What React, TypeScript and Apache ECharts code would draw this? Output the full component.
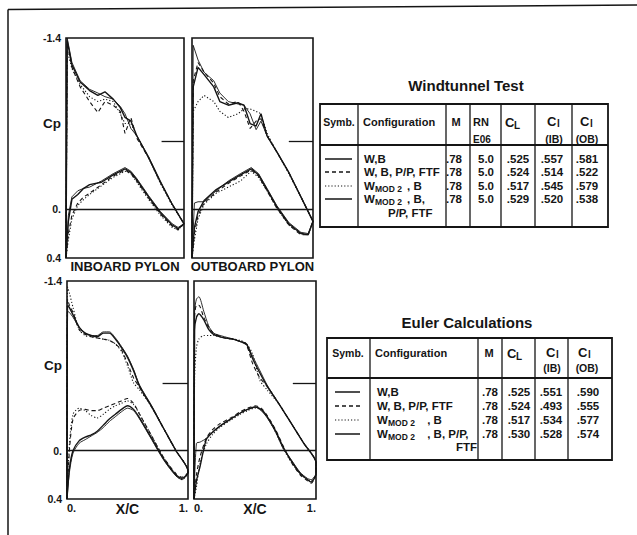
import React, { useEffect, useRef } from "react";
import * as echarts from "echarts";

// ---------- Pressure distributions (Cp vs X/C) ----------
// Windtunnel, inboard pylon
const wtInUX = [0.01, 0.05, 0.12, 0.2, 0.27, 0.33, 0.4, 0.46, 0.5, 0.55, 0.6, 0.7, 0.8, 0.9, 1.0];
const wtInU = [
  [-1.38, -1.18, -1.04, -0.97, -0.93, -0.96, -0.9, -0.83, -0.75, -0.72, -0.6, -0.42, -0.22, -0.04, 0.12],
  [-1.36, -1.16, -1.0, -0.88, -0.79, -0.88, -0.85, -0.8, -0.62, -0.75, -0.58, -0.42, -0.22, -0.04, 0.12],
  [-1.3, -1.15, -1.02, -0.92, -0.88, -0.9, -0.88, -0.78, -0.7, -0.7, -0.6, -0.42, -0.21, -0.03, 0.12],
  [-1.4, -1.2, -1.05, -0.98, -0.95, -0.92, -0.9, -0.84, -0.78, -0.66, -0.6, -0.43, -0.23, -0.04, 0.12],
];
const wtInLX = [0, 0.02, 0.05, 0.1, 0.15, 0.2, 0.3, 0.4, 0.5, 0.55, 0.6, 0.7, 0.8, 0.9, 0.95, 1.0];
const wtInL = [
  [0.4, 0.1, -0.08, -0.12, -0.17, -0.2, -0.22, -0.28, -0.33, -0.3, -0.24, -0.1, 0.03, 0.13, 0.16, 0.12],
  [0.4, 0.2, 0.05, -0.05, -0.1, -0.13, -0.2, -0.27, -0.32, -0.29, -0.23, -0.09, 0.04, 0.14, 0.17, 0.12],
  [0.4, 0.25, 0.08, -0.03, -0.08, -0.12, -0.19, -0.26, -0.31, -0.29, -0.22, -0.08, 0.05, 0.15, 0.17, 0.12],
  [0.4, 0.05, -0.1, -0.15, -0.17, -0.18, -0.23, -0.29, -0.34, -0.31, -0.25, -0.11, 0.02, 0.12, 0.15, 0.12],
];
// Windtunnel, outboard pylon
const wtOutUX = [0.01, 0.05, 0.1, 0.18, 0.23, 0.3, 0.38, 0.43, 0.48, 0.53, 0.57, 0.62, 0.7, 0.8, 0.9, 1.0];
const wtOutU = [
  [-1.0, -1.16, -1.1, -1.0, -0.88, -0.85, -0.87, -0.85, -0.7, -0.68, -0.78, -0.6, -0.47, -0.3, -0.1, 0.1],
  [-1.05, -1.2, -1.12, -1.03, -0.92, -0.86, -0.88, -0.8, -0.66, -0.72, -0.74, -0.6, -0.47, -0.3, -0.1, 0.1],
  [-0.8, -0.88, -0.93, -0.88, -0.8, -0.75, -0.78, -0.82, -0.82, -0.8, -0.78, -0.62, -0.47, -0.29, -0.1, 0.1],
  [-1.34, -1.22, -1.12, -1.05, -0.95, -0.88, -0.86, -0.85, -0.78, -0.65, -0.72, -0.6, -0.47, -0.3, -0.1, 0.1],
];
const wtOutLX = [0, 0.02, 0.05, 0.1, 0.2, 0.3, 0.4, 0.49, 0.55, 0.62, 0.7, 0.8, 0.9, 0.96, 1.0];
const wtOutL = [
  [0.4, 0.15, 0.02, -0.07, -0.16, -0.22, -0.28, -0.33, -0.28, -0.16, -0.02, 0.12, 0.2, 0.21, 0.1],
  [0.4, 0.2, 0.05, -0.05, -0.14, -0.21, -0.27, -0.32, -0.27, -0.15, -0.01, 0.13, 0.21, 0.21, 0.1],
  [0.4, 0.25, 0.08, -0.04, -0.13, -0.18, -0.23, -0.31, -0.26, -0.15, -0.01, 0.13, 0.2, 0.21, 0.1],
  [0.4, -0.05, -0.06, -0.06, -0.15, -0.23, -0.29, -0.34, -0.29, -0.17, -0.03, 0.11, 0.19, 0.2, 0.1],
];
// Euler, inboard pylon
const euInUX = [0.005, 0.02, 0.05, 0.1, 0.15, 0.2, 0.25, 0.3, 0.35, 0.4, 0.45, 0.5, 0.55, 0.6, 0.7, 0.8, 0.9, 1.0];
const euInU = [
  [-1.2, -1.18, -1.12, -1.02, -0.97, -0.95, -0.94, -0.97, -0.97, -0.92, -0.85, -0.77, -0.66, -0.53, -0.36, -0.18, 0.0, 0.17],
  [-1.25, -1.2, -1.14, -1.0, -0.96, -0.94, -0.93, -0.92, -0.91, -0.88, -0.83, -0.72, -0.6, -0.52, -0.36, -0.18, 0.0, 0.17],
  [-1.35, -1.3, -1.18, -1.0, -0.95, -0.94, -0.93, -0.92, -0.91, -0.88, -0.82, -0.7, -0.56, -0.5, -0.36, -0.18, 0.0, 0.17],
  [-1.15, -1.14, -1.1, -1.02, -0.97, -0.95, -0.95, -0.98, -0.98, -0.93, -0.86, -0.78, -0.67, -0.54, -0.37, -0.18, 0.0, 0.17],
];
const euInLX = [0, 0.02, 0.05, 0.1, 0.15, 0.2, 0.25, 0.3, 0.35, 0.4, 0.45, 0.5, 0.55, 0.6, 0.7, 0.8, 0.9, 0.95, 1.0];
const euInL = [
  [0.4, 0.15, 0.0, -0.08, -0.11, -0.13, -0.16, -0.21, -0.26, -0.3, -0.34, -0.37, -0.34, -0.27, -0.1, 0.07, 0.2, 0.23, 0.18],
  [0.4, 0.0, -0.26, -0.33, -0.34, -0.33, -0.33, -0.35, -0.37, -0.39, -0.41, -0.43, -0.39, -0.3, -0.12, 0.06, 0.19, 0.22, 0.18],
  [0.4, -0.05, -0.3, -0.35, -0.33, -0.29, -0.27, -0.3, -0.34, -0.37, -0.39, -0.41, -0.38, -0.3, -0.12, 0.06, 0.2, 0.24, 0.18],
  [0.4, 0.18, 0.02, -0.06, -0.09, -0.12, -0.15, -0.19, -0.24, -0.28, -0.32, -0.35, -0.33, -0.26, -0.09, 0.08, 0.21, 0.24, 0.18],
];
// Euler, outboard pylon
const euOutUX = [0.005, 0.02, 0.04, 0.08, 0.12, 0.16, 0.25, 0.32, 0.38, 0.43, 0.48, 0.54, 0.6, 0.7, 0.8, 0.9, 1.0];
const euOutU = [
  [-1.0, -1.1, -1.13, -1.08, -1.0, -0.96, -0.93, -0.92, -0.9, -0.88, -0.76, -0.64, -0.53, -0.38, -0.22, -0.06, 0.1],
  [-1.1, -1.2, -1.2, -1.1, -1.02, -0.97, -0.93, -0.92, -0.9, -0.87, -0.72, -0.6, -0.53, -0.38, -0.22, -0.06, 0.1],
  [-0.6, -0.85, -0.92, -0.95, -0.95, -0.95, -0.93, -0.92, -0.91, -0.88, -0.8, -0.58, -0.5, -0.38, -0.22, -0.06, 0.1],
  [-1.15, -1.25, -1.27, -1.15, -1.03, -0.97, -0.94, -0.92, -0.9, -0.88, -0.78, -0.66, -0.54, -0.38, -0.22, -0.06, 0.1],
];
const euOutLX = [0, 0.02, 0.05, 0.1, 0.15, 0.21, 0.3, 0.38, 0.44, 0.5, 0.55, 0.6, 0.67, 0.73, 0.8, 0.87, 0.93, 0.96, 1.0];
const euOutL = [
  [0.4, 0.25, 0.13, -0.09, -0.15, -0.2, -0.26, -0.31, -0.34, -0.36, -0.34, -0.28, -0.16, -0.03, 0.09, 0.19, 0.24, 0.26, 0.19],
  [0.4, 0.2, 0.05, -0.1, -0.17, -0.22, -0.27, -0.32, -0.35, -0.37, -0.35, -0.29, -0.17, -0.04, 0.1, 0.2, 0.25, 0.27, 0.19],
  [0.4, 0.3, 0.1, -0.05, -0.13, -0.19, -0.25, -0.3, -0.33, -0.35, -0.34, -0.28, -0.15, -0.02, 0.1, 0.19, 0.24, 0.25, 0.19],
  [0.4, -0.06, -0.07, -0.1, -0.15, -0.2, -0.26, -0.31, -0.34, -0.36, -0.33, -0.27, -0.15, -0.02, 0.08, 0.18, 0.23, 0.24, 0.19],
];

// critical Cp marker
const cpStar = -0.557;
const cpStarStart = [0.81, 0.8, 0.79, 0.81];

// ---------- Tables ----------
const wtConfig = ["W,B", "W, B, P/P, FTF", "W_MOD 2_, B", "W_MOD 2_, B,"];
const wtConfigExtra = "P/P, FTF";
const wtMach = [".78", ".78", ".78", ".78"];
const wtRN = ["5.0", "5.0", "5.0", "5.0"];
const wtCL = [".525", ".524", ".517", ".529"];
const wtClIB = [".557", ".514", ".545", ".520"];
const wtClOB = [".581", ".522", ".579", ".538"];

const euConfig = ["W,B", "W, B, P/P, FTF", "W_MOD 2_ , B", "W_MOD 2_ , B, P/P,"];
const euConfigExtra = "FTF";
const euMach = [".78", ".78", ".78", ".78"];
const euCL = [".525", ".524", ".517", ".530"];
const euClIB = [".551", ".493", ".534", ".528"];
const euClOB = [".590", ".555", ".577", ".574"];

const FF = "'Liberation Sans', Arial, Helvetica, sans-serif";
const INK = "#151515";

const lineStyles = [
  { type: "solid", width: 1.4 },
  { type: [4, 3], width: 1.1 },
  { type: [1.2, 2], width: 1.1 },
  { type: "solid", width: 0.9 },
];

function T(x: number, y: number, text: string, size = 11, align = "left", weight = "bold") {
  return {
    type: "text", x, y, silent: true,
    style: {
      text, fontSize: size, fontWeight: weight, fontFamily: FF, fill: INK,
      textAlign: align, textVerticalAlign: "middle", align, verticalAlign: "middle",
    },
  };
}
function L(x1: number, y1: number, x2: number, y2: number, w = 1.5, dash?: number[]) {
  return {
    type: "line", silent: true, shape: { x1, y1, x2, y2 },
    style: { stroke: INK, lineWidth: w, lineDash: dash || null, fill: "none" },
  };
}
function configEls(x: number, y: number, s: string, subW: number) {
  const parts = s.split("_");
  if (parts.length < 3) return [T(x, y, s, 11.5)];
  return [
    T(x, y, parts[0], 11.5),
    T(x + 11, y + 3, parts[1], 8.5),
    T(x + 11 + subW, y, parts[2], 11.5),
  ];
}
const symDash = [null, [4, 3], [1.2, 2], null];
const symW = [1.5, 1.3, 1.2, 1.5];

function buildGraphics() {
  const g: any[] = [];
  // frame
  g.push(L(8, 9.5, 637, 5, 1.5));
  g.push(L(8, 9.5, 8, 535, 1.5));

  // Windtunnel table
  g.push(T(466, 85, "Windtunnel Test", 15, "center"));
  g.push({ type: "rect", silent: true, shape: { x: 320, y: 104, width: 288, height: 123 }, style: { fill: "none", stroke: INK, lineWidth: 1.8 } });
  g.push(L(320, 145, 608, 145, 1.8));
  [358, 446, 470, 501, 535, 572].forEach((x) => g.push(L(x, 104, x, 227, 1.3)));
  g.push(T(339, 122, "Symb.", 10.5, "center"));
  g.push(T(363, 122, "Configuration", 11));
  g.push(T(456, 122, "M", 11, "center"));
  g.push(T(473, 122, "RN", 11));
  g.push(T(473, 139, "E06", 10));
  g.push(T(505, 122, "C", 13));
  g.push(T(514, 125, "L", 10));
  g.push(T(547, 121, "C", 13));
  g.push(T(557, 123, "l", 10));
  g.push(T(554, 139, "(IB)", 10.5, "center"));
  g.push(T(580, 121, "C", 13));
  g.push(T(590, 123, "l", 10));
  g.push(T(587, 139, "(OB)", 10.5, "center"));
  const wtRows = [159, 172, 186, 199];
  wtRows.forEach((y, i) => {
    g.push(L(325, y, 352, y, symW[i], symDash[i] as any));
    configEls(364, y, wtConfig[i], 32).forEach((e) => g.push(e));
    g.push(T(454, y, wtMach[i], 11.5, "center"));
    g.push(T(486, y, wtRN[i], 11.5, "center"));
    g.push(T(518, y, wtCL[i], 11.5, "center"));
    g.push(T(552, y, wtClIB[i], 11.5, "center"));
    g.push(T(587, y, wtClOB[i], 11.5, "center"));
  });
  g.push(T(388, 213, wtConfigExtra, 11.5));

  // Euler table
  g.push(T(467, 322, "Euler Calculations", 15, "center"));
  g.push({ type: "rect", silent: true, shape: { x: 327, y: 338, width: 285, height: 122 }, style: { fill: "none", stroke: INK, lineWidth: 1.8 } });
  g.push(L(327, 378, 612, 378, 1.8));
  [370, 478, 502, 535, 568].forEach((x) => g.push(L(x, 338, x, 460, 1.3)));
  g.push(T(348, 353, "Symb.", 10.5, "center"));
  g.push(T(375, 353, "Configuration", 11));
  g.push(T(489, 353, "M", 11, "center"));
  g.push(T(507, 353, "C", 13));
  g.push(T(516, 356, "L", 10));
  g.push(T(546, 352, "C", 13));
  g.push(T(556, 354, "l", 10));
  g.push(T(552, 368, "(IB)", 10.5, "center"));
  g.push(T(578, 352, "C", 13));
  g.push(T(588, 354, "l", 10));
  g.push(T(587, 368, "(OB)", 10.5, "center"));
  const euRows = [392, 406, 420, 434];
  euRows.forEach((y, i) => {
    g.push(L(335, y, 360, y, symW[i], symDash[i] as any));
    configEls(377, y, euConfig[i], 36).forEach((e) => g.push(e));
    g.push(T(490, y, euMach[i], 11.5, "center"));
    g.push(T(519, y, euCL[i], 11.5, "center"));
    g.push(T(551, y, euClIB[i], 11.5, "center"));
    g.push(T(588, y, euClOB[i], 11.5, "center"));
  });
  g.push(T(477, 447, euConfigExtra, 11.5, "right"));
  return g;
}

const panels = [
  { ux: wtInUX, u: wtInU, lx: wtInLX, l: wtInL, smooth: false },
  { ux: wtOutUX, u: wtOutU, lx: wtOutLX, l: wtOutL, smooth: false },
  { ux: euInUX, u: euInU, lx: euInLX, l: euInL, smooth: 0.25 },
  { ux: euOutUX, u: euOutU, lx: euOutLX, l: euOutL, smooth: 0.25 },
];

const grids = [
  { left: 66, top: 38, width: 118, height: 220 },
  { left: 192, top: 38, width: 121, height: 220 },
  { left: 67, top: 281, width: 121, height: 218 },
  { left: 194, top: 281, width: 122, height: 218 },
];
const panelNames = ["INBOARD PYLON", "OUTBOARD PYLON", "", ""];

function buildOption() {
  const series: any[] = [];
  panels.forEach((p, pi) => {
    for (let c = 0; c < 4; c++) {
      const data: number[][] = [];
      data.push([p.lx[0], p.l[c][0]]);
      p.ux.forEach((x, k) => data.push([x, p.u[c][k]]));
      for (let k = p.lx.length - 1; k >= 0; k--) data.push([p.lx[k], p.l[c][k]]);
      const s: any = {
        type: "line", xAxisIndex: pi, yAxisIndex: pi, data, showSymbol: false, symbol: "none",
        smooth: p.smooth, silent: true,
        lineStyle: { color: INK, width: lineStyles[c].width, type: lineStyles[c].type },
      };
      if (c === 0) {
        s.markLine = {
          silent: true, symbol: "none", label: { show: false },
          lineStyle: { color: INK, width: 1.3, type: "solid" },
          data: [
            { yAxis: 0 },
            [{ coord: [cpStarStart[pi], cpStar] }, { coord: [1, cpStar] }],
          ],
        };
      }
      series.push(s);
    }
  });

  const xAxis = grids.map((_, i) => {
    const bottom = i >= 2;
    return {
      type: "value", gridIndex: i, min: 0, max: 1, interval: 0.5,
      axisLine: { show: false }, axisTick: { show: false }, splitLine: { show: false },
      name: panelNames[i], nameLocation: "middle", nameGap: 2,
      nameTextStyle: { fontFamily: FF, fontWeight: "bold", fontSize: 13, color: INK, verticalAlign: "top" },
      axisLabel: {
        show: bottom, margin: 3, fontFamily: FF, fontWeight: "bold", fontSize: 11, color: INK,
        alignMinLabel: "left", alignMaxLabel: "right",
        formatter: (v: number) => {
          const r = Math.round(v * 10);
          if (r === 0) return "0.";
          if (r === 5) return "{xc|X/C}";
          if (r === 10) return "1.";
          return "";
        },
        rich: { xc: { fontFamily: FF, fontWeight: "bold", fontSize: 14, color: INK } },
      },
    };
  });
  const yAxis = grids.map((_, i) => {
    const left = i % 2 === 0;
    return {
      type: "value", gridIndex: i, min: -1.4, max: 0.4, interval: 0.1, inverse: true,
      axisLine: { show: false }, axisTick: { show: false }, splitLine: { show: false },
      axisLabel: {
        show: left, margin: 5, fontFamily: FF, fontWeight: "bold", fontSize: 10.5, color: INK,
        formatter: (v: number) => {
          const r = Math.round(v * 10);
          if (r === -14) return "-1.4";
          if (r === -7) return "{cp|Cp}";
          if (r === 0) return "0.";
          if (r === 4) return "0.4";
          return "";
        },
        rich: { cp: { fontFamily: FF, fontWeight: "bold", fontSize: 13.5, color: INK } },
      },
    };
  });

  return {
    animation: false,
    backgroundColor: "#ffffff",
    grid: grids.map((g) => ({ ...g, show: true, borderColor: INK, borderWidth: 1.6, backgroundColor: "transparent", containLabel: false })),
    xAxis, yAxis, series,
    graphic: { elements: buildGraphics() },
  };
}

export default function App() {
  const ref = useRef<HTMLDivElement>(null);
  useEffect(() => {
    if (!ref.current) return;
    const chart = echarts.init(ref.current, null, { renderer: "svg" });
    chart.setOption(buildOption() as any);
    return () => chart.dispose();
  }, []);
  return (
    <div
      ref={ref}
      style={{ position: "fixed", left: 0, top: 0, width: 637, height: 535, background: "#fff" }}
    />
  );
}
